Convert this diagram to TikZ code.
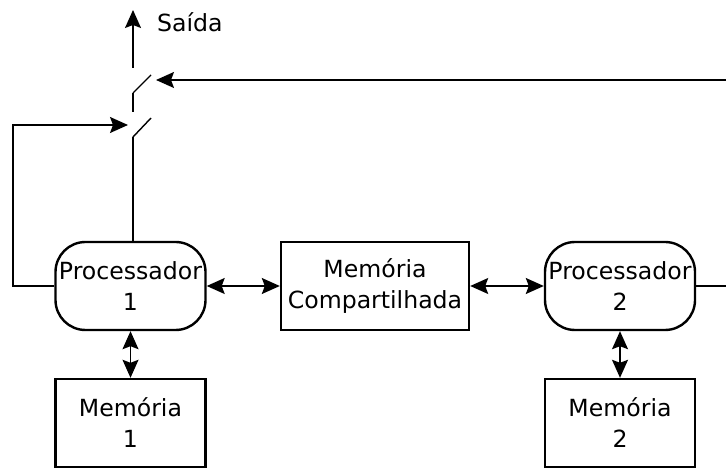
\documentclass[tikz,border=0pt]{standalone}
\usepackage{fontspec}
\setmainfont{DejaVu Sans}
\usetikzlibrary{arrows.meta}
\begin{document}
\begin{tikzpicture}[x=0.5pt,y=-0.5pt,
  txt/.style={font=\fontsize{11.8}{15.5}\selectfont},
  box/.style={txt,draw,line width=1.2pt,minimum width=75pt,minimum height=44pt,inner sep=0pt,align=center},
  proc/.style={box,rounded corners=15pt},
  conn/.style={line width=0.7pt},
  hd/.tip={Stealth[length=9pt,width=8pt,inset=1.5pt]},
  tip/.style={-hd},
  dtip/.style={hd-hd}]
\useasboundingbox (0,0) rectangle (726,469);
% nodes
\node[proc] (p1) at (130.5,286) {Processador\\1};
\node[box,minimum width=94pt] (mc) at (375,286) {Memória\\Compartilhada};
\node[proc] (p2) at (620,286) {Processador\\2};
\node[box] (m1) at (130.5,423) {Memória\\1};
\node[box] (m2) at (620,423) {Memória\\2};
\node[txt,anchor=west] (saida) at (150,22) {Saída};
% switch coordinates
\coordinate (out) at (133,10);
\coordinate (s1top) at (133,68);
\coordinate (s1a) at (133,93);
\coordinate (s1b) at (151,75);
\coordinate (s2top) at (133,112);
\coordinate (s2a) at (133,137);
\coordinate (s2b) at (151,118);
\coordinate (s1in) at (156,80);
\coordinate (s2in) at (128,125);
\coordinate (rtop) at (726,80);
\coordinate (lc) at (13,125);
\coordinate (rc) at (726,286);
% connectors
\draw[conn,dtip] (p1) -- (mc);
\draw[conn,dtip] (mc) -- (p2);
\draw[conn,dtip] (p1) -- (m1);
\draw[conn,dtip] (p2) -- (m2);
\draw[conn,tip] (s1top) -- (out);
\draw[conn] (s1a) -- (s1b);
\draw[conn] (s1a) -- (s2top);
\draw[conn] (s2a) -- (s2b);
\draw[conn] (s2a) -- (s2a |- p1.north);
\draw[conn,tip] (rtop) -- (s1in);
\draw[conn,tip] (p1.west) -| (lc) -- (s2in);
\draw[conn] (p2.east) -- (rc);
\end{tikzpicture}
\end{document}
